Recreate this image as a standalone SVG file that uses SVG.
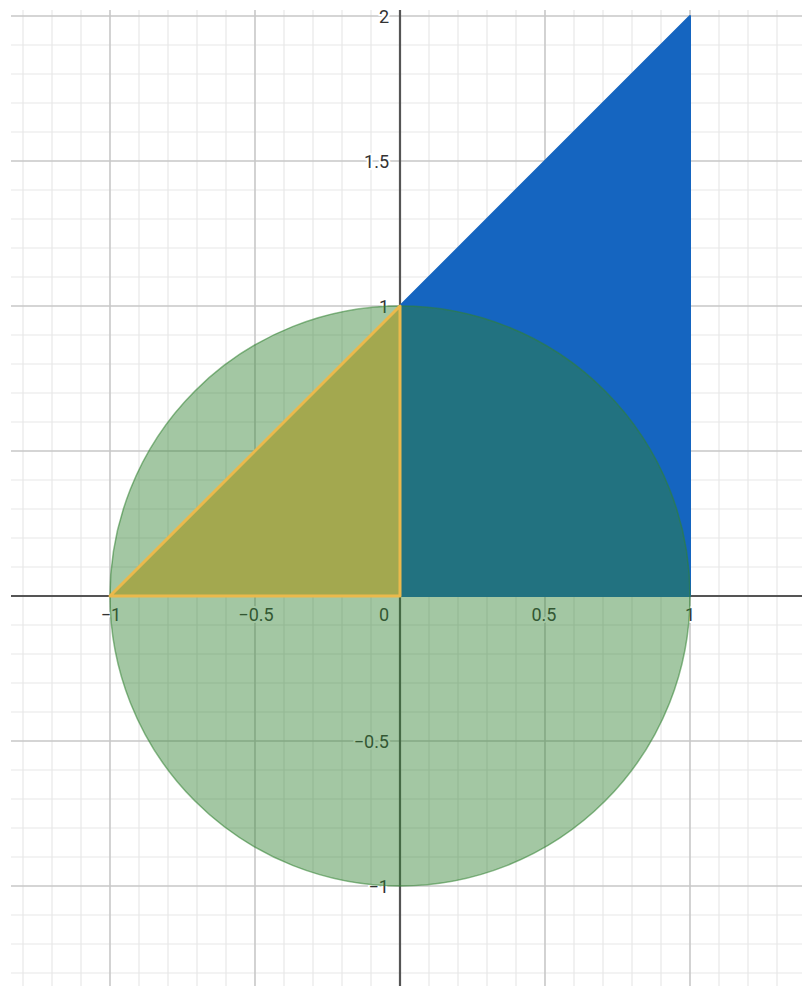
<svg xmlns="http://www.w3.org/2000/svg" width="802" height="986" viewBox="0 0 802 986">
  <style>
    .minor { stroke: #e8e8e8; stroke-width: 1.2; fill: none; }
    .major { stroke: #c8c8c8; stroke-width: 1.6; fill: none; }
    .axis { stroke: #555555; stroke-width: 2.2; fill: none; }
    .lbl { font-family: Roboto, "Liberation Sans", sans-serif; font-size: 18px; fill: #333333; stroke: #ffffff; stroke-width: 4; paint-order: stroke; stroke-linejoin: round; }
    .xl { text-anchor: middle; }
    .yl { text-anchor: end; }
  </style>
  <rect x="0" y="0" width="802" height="986" fill="#ffffff"/>
  <g id="grid">
    <g class="minor">
      <path d="M23 10V986M52 10V986M81 10V986M139 10V986M168 10V986M197 10V986M226 10V986M284 10V986M313 10V986M342 10V986M371 10V986M429 10V986M458 10V986M487 10V986M516 10V986M574 10V986M603 10V986M632 10V986M661 10V986M719 10V986M748 10V986M777 10V986"/>
      <path d="M11 45H802M11 74H802M11 103H802M11 132H802M11 190H802M11 219H802M11 248H802M11 277H802M11 335H802M11 364H802M11 393H802M11 422H802M11 480H802M11 509H802M11 538H802M11 567H802M11 625H802M11 654H802M11 683H802M11 712H802M11 770H802M11 799H802M11 828H802M11 857H802M11 915H802M11 944H802M11 973H802"/>
    </g>
    <g class="major">
      <path d="M110 10V986M255 10V986M545 10V986M690 10V986"/>
      <path d="M11 16H802M11 161H802M11 306H802M11 451H802M11 741H802M11 886H802"/>
    </g>
  </g>
  <g id="axes">
    <path class="axis" d="M11 596H802"/>
    <path class="axis" d="M400 10V986"/>
  </g>
  <g id="labels">
    <text class="lbl xl" x="111" y="621">−1</text>
    <text class="lbl xl" x="256" y="621">−0.5</text>
    <text class="lbl xl" x="384" y="621">0</text>
    <text class="lbl xl" x="544" y="621">0.5</text>
    <text class="lbl xl" x="690" y="621">1</text>
    <text class="lbl yl" x="389" y="23">2</text>
    <text class="lbl yl" x="389" y="168">1.5</text>
    <text class="lbl yl" x="389" y="313">1</text>
    <text class="lbl yl" x="389" y="748">−0.5</text>
    <text class="lbl yl" x="389" y="893">−1</text>
  </g>
  <g id="blue-polygon">
    <path d="M400 596L400 306L690 16L690 596Z" fill="#1565c0" stroke="#1565c0" stroke-width="2" stroke-linejoin="round"/>
  </g>
  <g id="circle">
    <circle cx="400" cy="596" r="290" fill="#328232" fill-opacity="0.45" stroke="#328232" stroke-opacity="0.55" stroke-width="1.5"/>
  </g>
  <g id="yellow-triangle">
    <path d="M110 596L400 306L400 596Z" fill="#a3a84f" stroke="#ebb94c" stroke-width="3" stroke-linejoin="round"/>
  </g>
</svg>
